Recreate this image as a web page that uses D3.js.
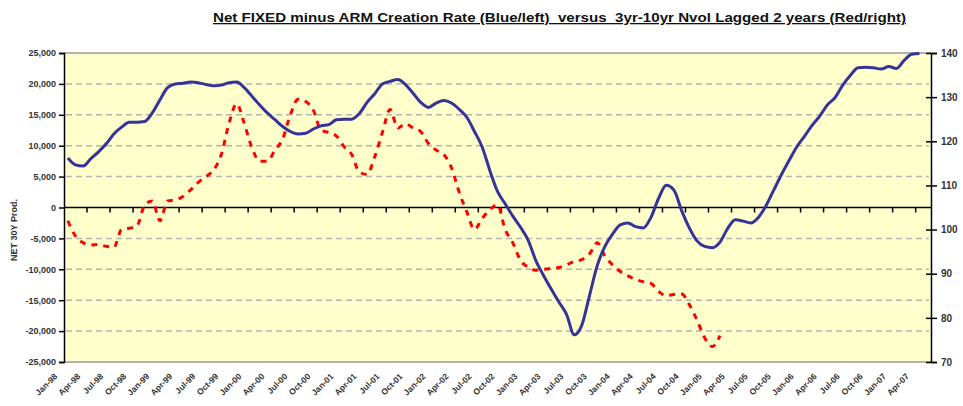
<!DOCTYPE html>
<meta charset="utf-8">
<script src="https://cdn.jsdelivr.net/npm/d3@7"></script>
<style>
body { margin: 0; background: #fff; }
text { font-family: "Liberation Sans", Arial, sans-serif; fill: #222; }
.tick text { font-size: 9px; font-weight: bold; fill: #333; }
.grid line { stroke: #b4b4b4; stroke-width: 1.5px; stroke-dasharray: 6,4; }
</style>
<body>
<script>

// months Jan-98 .. May-07 (category axis)
var months = d3.timeMonths(new Date(1998, 0, 1), new Date(2007, 5, 1));
var fmtMonth = d3.timeFormat("%b-%y");

// Net FIXED minus ARM creation rate (left axis), Jan-98 .. Apr-07
var netFixed = [
  8000, 6900, 6700, 7900, 9000, 10300, 11900, 13000, 13800, 13800, 13900, 15300,
  17400, 19400, 20000, 20100, 20300, 20200, 19900, 19700, 19800, 20200, 20300, 19400,
  18000, 16600, 15300, 14200, 13100, 12300, 11900, 12000, 12700, 13200, 13400, 14200,
  14300, 14300, 15200, 17000, 18400, 20000, 20400, 20700, 19900, 18500, 17000, 16200,
  16900, 17300, 16900, 15900, 14600, 12300, 9800, 6000, 2600, 600, -1400, -3200,
  -5300, -8600, -11000, -13200, -15300, -17300, -20600, -19000, -14200, -9400, -6300, -4300,
  -2800, -2500, -3100, -3300, -1600, 1500, 3600, 2800, -500, -3300, -5400, -6300,
  -6500, -5600, -3400, -2000, -2200, -2500, -1600, 300, 2800, 5300, 7600, 9800,
  11500, 13300, 14800, 16600, 17800, 19800, 21400, 22600, 22700, 22600, 22400, 22800,
  22500, 23800, 24800, 24900
];

// 3yr-10yr Nvol lagged 2 years (right axis), Jan-98 .. Feb-05
var nvolLag = [
  102.0, 98.5, 97.0, 96.5, 96.6, 96.2, 96.0, 100.0, 100.3, 100.8, 105.5, 106.5,
  102.0, 106.5, 106.7, 107.5, 109.0, 110.7, 112.0, 113.5, 117.0, 124.0, 128.5, 124.0,
  118.5, 115.5, 115.5, 118.0, 120.5, 126.0, 129.5, 129.0, 127.0, 122.5, 122.0, 121.2,
  118.8, 117.0, 113.0, 112.5, 116.5, 122.0, 127.2, 123.0, 124.0, 123.0, 122.2, 119.5,
  118.0, 117.0, 114.0, 108.5, 104.0, 100.0, 102.5, 104.5, 105.6, 100.0, 97.0, 93.0,
  91.5, 90.8, 91.0, 91.2, 91.4, 92.0, 92.8, 93.2, 94.5, 97.0, 94.0, 92.0,
  90.5, 89.5, 88.7, 88.2, 87.8, 86.0, 85.0, 85.3, 85.4, 83.0, 79.5, 75.5,
  73.5, 76.0
];

var leftTicks = [-25000, -20000, -15000, -10000, -5000, 0, 5000, 10000, 15000, 20000, 25000];
var rightTicks = [70, 80, 90, 100, 110, 120, 130, 140];

var width = 963,
    height = 406,
    pLeft = 64, pRight = 931, pTop = 53, pBottom = 362;

var svg = d3.select("body").append("svg")
    .attr("width", width)
    .attr("height", height);

var x = d3.scaleBand()
    .domain(d3.range(months.length))
    .range([pLeft, pRight])
    .padding(0);

var y = d3.scaleLinear().domain([-25000, 25000]).range([pBottom, pTop]);
var y2 = d3.scaleLinear().domain([70, 140]).range([pBottom, pTop]);

function cx(i) { return x(i) + x.bandwidth() / 2; }

// plot area
svg.append("rect")
    .attr("x", pLeft).attr("y", pTop)
    .attr("width", pRight - pLeft).attr("height", pBottom - pTop)
    .attr("fill", "#ffffcc");

svg.append("line")
    .attr("x1", pLeft).attr("x2", pRight)
    .attr("y1", pTop).attr("y2", pTop)
    .attr("stroke", "#999").attr("stroke-width", 1.5);
svg.append("line")
    .attr("x1", pLeft).attr("x2", pRight)
    .attr("y1", pBottom).attr("y2", pBottom)
    .attr("stroke", "#999").attr("stroke-width", 1.5);

// grid lines
svg.append("g")
    .attr("class", "grid")
  .selectAll("line")
    .data(leftTicks.filter(function(d) { return d != 0 && Math.abs(d) != 25000; }))
  .enter().append("line")
    .attr("x1", pLeft + 2).attr("x2", pRight - 2)
    .attr("y1", function(d) { return y(d); })
    .attr("y2", function(d) { return y(d); });

// left axis
var fmt = d3.format(",");
svg.append("g")
    .attr("transform", "translate(" + pLeft + ",0)")
    .call(d3.axisLeft(y).tickValues(leftTicks).tickSize(5).tickPadding(3)
      .tickFormat(function(d) { return fmt(d).replace("\u2212", "-"); }))
    .call(function(g) {
      g.select(".domain").attr("stroke", "#000").attr("stroke-width", 1.5);
      g.selectAll(".tick line").attr("stroke", "#000").attr("stroke-width", 1.5);
    });

// right axis (cross ticks)
svg.append("g")
    .attr("transform", "translate(" + pRight + ",0)")
    .call(d3.axisRight(y2).tickValues(rightTicks).tickSize(6).tickPadding(4))
    .call(function(g) {
      g.select(".domain").attr("stroke", "#000").attr("stroke-width", 1.5);
      g.selectAll(".tick line").attr("x1", -5).attr("stroke", "#000").attr("stroke-width", 1.5);
      g.selectAll(".tick text").style("font-size", "10px");
    });

// category axis at zero
var xa = svg.append("g");
xa.append("line")
    .attr("x1", pLeft).attr("x2", pRight)
    .attr("y1", y(0)).attr("y2", y(0))
    .attr("stroke", "#000").attr("stroke-width", 1.5);
xa.selectAll(".xt")
    .data(d3.range(3, months.length, 3))
  .enter().append("line")
    .attr("x1", function(d) { return x(d); })
    .attr("x2", function(d) { return x(d); })
    .attr("y1", y(0)).attr("y2", y(0) + 5)
    .attr("stroke", "#000").attr("stroke-width", 1.5);

// month labels at the bottom
svg.append("g").selectAll("text")
    .data(d3.range(0, months.length, 3))
  .enter().append("text")
    .attr("text-anchor", "end")
    .attr("transform", function(d) {
      return "translate(" + (cx(d) - 10) + "," + (pBottom + 15) + ") rotate(-45)";
    })
    .style("font-size", "8.5px")
    .style("font-weight", "bold")
    .style("fill", "#333")
    .text(function(d) { return fmtMonth(months[d]); });

// lines
var blueLine = d3.line()
    .x(function(d, i) { return cx(i); })
    .y(function(d) { return y(d); })
    .curve(d3.curveMonotoneX);

var redLine = d3.line()
    .x(function(d, i) { return cx(i); })
    .y(function(d) { return y2(d); })
    .curve(d3.curveMonotoneX);

svg.append("path")
    .datum(nvolLag)
    .attr("d", redLine)
    .attr("fill", "none")
    .attr("stroke", "#ff0000")
    .attr("stroke-width", 3)
    .attr("stroke-dasharray", "6,6");

svg.append("path")
    .datum(netFixed)
    .attr("d", blueLine)
    .attr("fill", "none")
    .attr("stroke", "#333399")
    .attr("stroke-width", 3)
    .attr("stroke-linejoin", "round");

// y axis title
svg.append("text")
    .attr("transform", "translate(17," + 230 + ") rotate(-90)")
    .attr("text-anchor", "middle")
    .style("font-size", "9px")
    .style("font-weight", "bold")
    .style("fill", "#333")
    .text("NET 30Y Prod.");

// title
svg.append("text")
    .attr("x", 213)
    .attr("y", 22)
    .attr("textLength", 693)
    .attr("lengthAdjust", "spacingAndGlyphs")
    .style("font-size", "13px")
    .style("font-weight", "bold")
    .style("text-decoration", "underline")
    .style("fill", "#111")
    .attr("xml:space", "preserve")
    .text("Net FIXED minus ARM Creation Rate (Blue/left)  versus  3yr-10yr Nvol Lagged 2 years (Red/right)");

</script>
</body>
</html>
